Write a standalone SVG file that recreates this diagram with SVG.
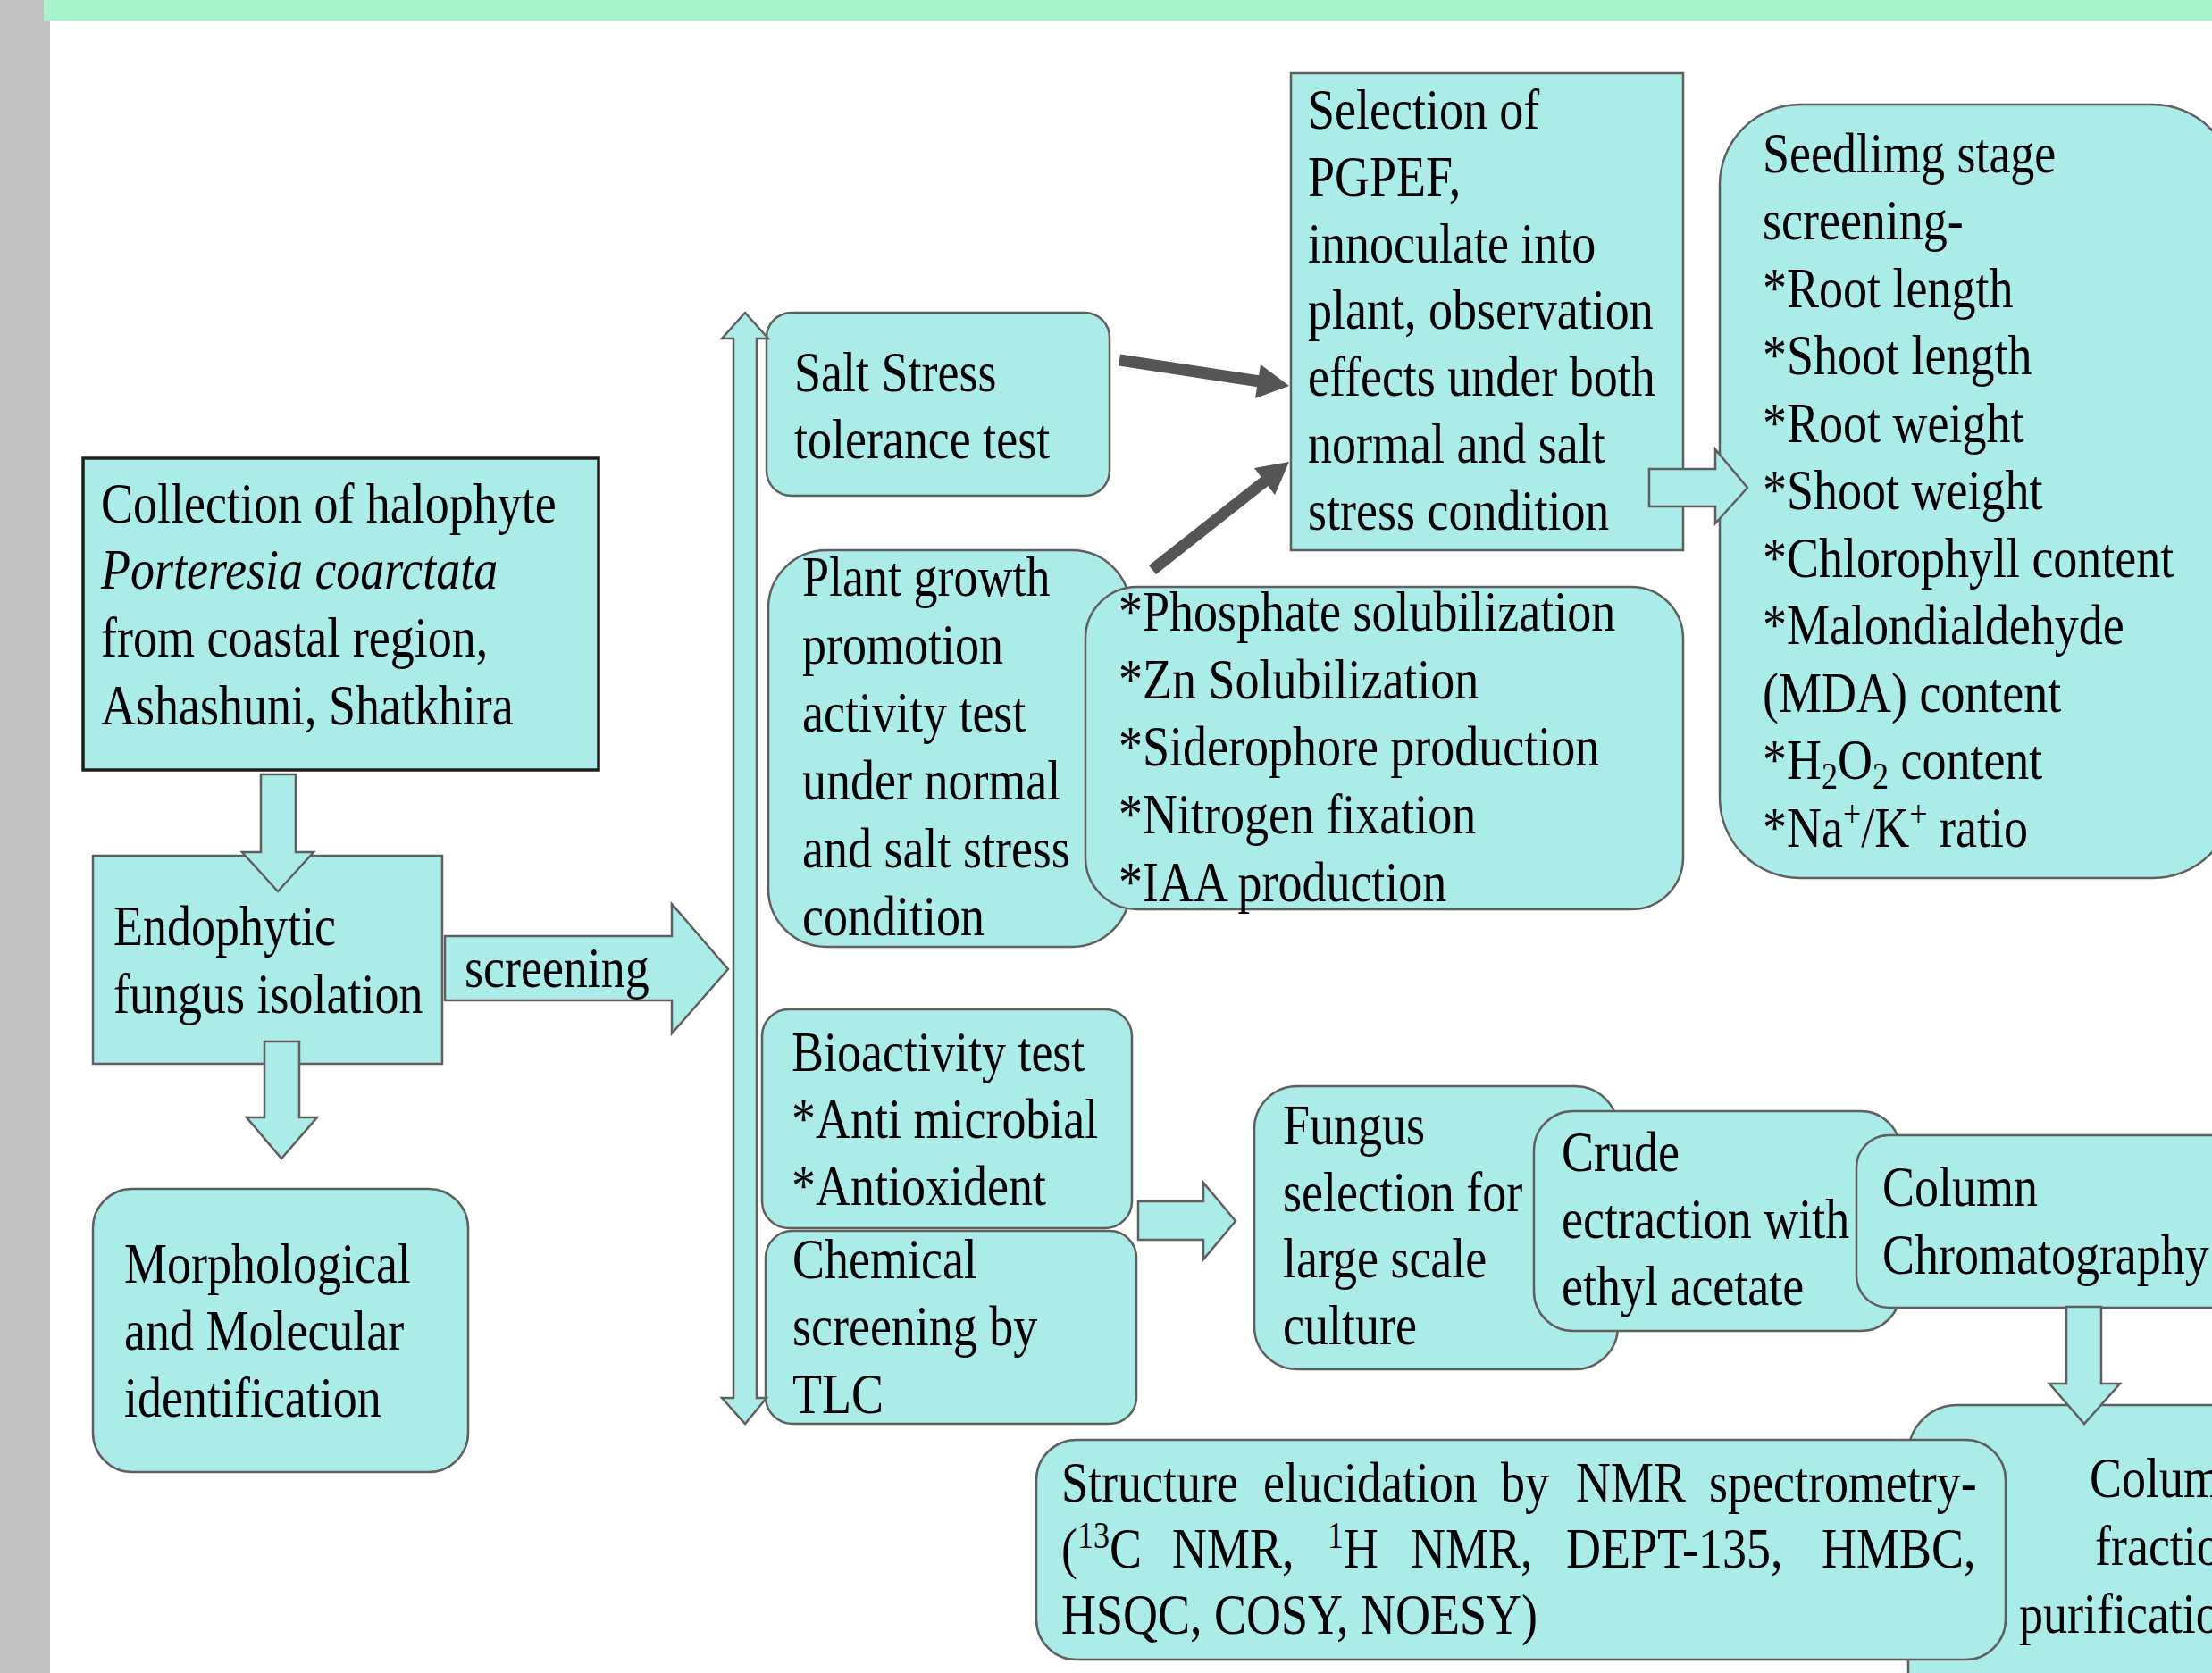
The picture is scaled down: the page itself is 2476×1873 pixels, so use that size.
<svg xmlns="http://www.w3.org/2000/svg" width="2476" height="1873" viewBox="0 0 2476 1873">
<style>
.bg{fill:#ffffff}
.box{fill:#abebe8;stroke:#5f5f5f;stroke-width:2.5}
.dark{fill:#abebe8;stroke:#1e1e1e;stroke-width:3.5}
.blk{fill:#abebe8;stroke:#5f5f5f;stroke-width:2.5;stroke-linejoin:miter}
.gl{stroke:#555555;stroke-width:13;fill:none}
.gh{fill:#555555}
.t{font-family:"Liberation Serif","Times New Roman",serif;font-size:54px;fill:#000000}
.i{font-style:italic}
.s{font-size:36px}
</style>
<rect class="bg" x="0" y="0" width="2476" height="1873"/>
<rect x="0" y="0" width="56" height="1873" fill="#c0c0c0"/>
<rect x="49" y="0" width="2427" height="23" fill="#a8f4cc"/>

<g id="collection">
<rect class="dark" x="93" y="513" width="577" height="349"/>
<text class="t" transform="matrix(1 0 0 1.17 113 585)"><tspan x="0" y="0">Collection of halophyte</tspan><tspan class="i" x="0" dy="63">Porteresia coarctata</tspan><tspan x="0" dy="65">from coastal region,</tspan><tspan x="0" dy="65">Ashashuni, Shatkhira</tspan></text>
</g>

<g id="endophytic">
<rect class="box" x="104" y="958" width="391" height="233"/>
<text class="t" transform="matrix(1 0 0 1.17 127 1058)"><tspan x="0" y="0">Endophytic</tspan><tspan x="0" dy="65">fungus isolation</tspan></text>
</g>

<g id="morphological">
<rect class="box" x="104" y="1331" width="420" height="317" rx="44"/>
<text class="t" transform="matrix(1 0 0 1.17 139 1436)"><tspan x="0" y="0">Morphological</tspan><tspan x="0" dy="64.1">and Molecular</tspan><tspan x="0" dy="64.1">identification</tspan></text>
</g>

<g id="salt">
<rect class="box" x="858" y="350" width="384" height="205" rx="28"/>
<text class="t" transform="matrix(1 0 0 1.17 889 438)"><tspan x="0" y="0">Salt Stress</tspan><tspan x="0" dy="64.1">tolerance test</tspan></text>
</g>

<g id="plantgrowth">
<rect class="box" x="860" y="616" width="405" height="444" rx="65"/>
<text class="t" transform="matrix(1 0 0 1.17 898 667)"><tspan x="0" y="0">Plant growth</tspan><tspan x="0" dy="65">promotion</tspan><tspan x="0" dy="65">activity test</tspan><tspan x="0" dy="65">under normal</tspan><tspan x="0" dy="65">and salt stress</tspan><tspan x="0" dy="65">condition</tspan></text>
</g>

<g id="phosphate">
<rect class="box" x="1215" y="657" width="669" height="361" rx="58"/>
<text class="t" transform="matrix(1 0 0 1.17 1252 706)"><tspan x="0" y="0">*Phosphate solubilization</tspan><tspan x="0" dy="64.7">*Zn Solubilization</tspan><tspan x="0" dy="64.7">*Siderophore production</tspan><tspan x="0" dy="64.7">*Nitrogen fixation</tspan><tspan x="0" dy="64.7">*IAA production</tspan></text>
</g>

<g id="selection">
<rect class="box" x="1445" y="82" width="439" height="534"/>
<text class="t" transform="matrix(1 0 0 1.17 1464 144)"><tspan x="0" y="0">Selection of</tspan><tspan x="0" dy="63.9">PGPEF,</tspan><tspan x="0" dy="63.9">innoculate into</tspan><tspan x="0" dy="63.9">plant, observation</tspan><tspan x="0" dy="63.9">effects under both</tspan><tspan x="0" dy="63.9">normal and salt</tspan><tspan x="0" dy="63.9">stress condition</tspan></text>
</g>

<g id="seedling">
<rect class="box" x="1925" y="117" width="575" height="866" rx="90"/>
<text class="t" transform="matrix(1 0 0 1.17 1973 193)"><tspan x="0" y="0">Seedlimg stage</tspan><tspan x="0" dy="64.5">screening-</tspan><tspan x="0" dy="64.5">*Root length</tspan><tspan x="0" dy="64.5">*Shoot length</tspan><tspan x="0" dy="64.5">*Root weight</tspan><tspan x="0" dy="64.5">*Shoot weight</tspan><tspan x="0" dy="64.5">*Chlorophyll content</tspan><tspan x="0" dy="64.5">*Malondialdehyde</tspan><tspan x="0" dy="64.5">(MDA) content</tspan><tspan x="0" dy="64.5">*H</tspan><tspan class="s" dy="9">2</tspan><tspan dy="-9">O</tspan><tspan class="s" dy="9">2</tspan><tspan dy="-9"> content</tspan><tspan x="0" dy="64.5">*Na</tspan><tspan class="s" dy="-19">+</tspan><tspan dy="19">/K</tspan><tspan class="s" dy="-19">+</tspan><tspan dy="19"> ratio</tspan></text>
</g>

<g id="bioactivity">
<rect class="box" x="853" y="1130" width="414" height="245" rx="30"/>
<text class="t" transform="matrix(1 0 0 1.17 886 1199)"><tspan x="0" y="0">Bioactivity test</tspan><tspan x="0" dy="64.1">*Anti microbial</tspan><tspan x="0" dy="64.1">*Antioxident</tspan></text>
</g>

<g id="chemical">
<rect class="box" x="857" y="1378" width="415" height="216" rx="30"/>
<text class="t" transform="matrix(1 0 0 1.17 887 1431)"><tspan x="0" y="0">Chemical</tspan><tspan x="0" dy="64.5">screening by</tspan><tspan x="0" dy="64.5">TLC</tspan></text>
</g>

<g id="fungus">
<rect class="box" x="1404" y="1216" width="407" height="317" rx="48"/>
<text class="t" transform="matrix(1 0 0 1.17 1436 1281)"><tspan x="0" y="0">Fungus</tspan><tspan x="0" dy="63.8">selection for</tspan><tspan x="0" dy="63.8">large scale</tspan><tspan x="0" dy="63.8">culture</tspan></text>
</g>

<g id="crude">
<rect class="box" x="1717" y="1244" width="410" height="246" rx="44"/>
<text class="t" transform="matrix(1 0 0 1.17 1748 1311)"><tspan x="0" y="0">Crude</tspan><tspan x="0" dy="64.1">ectraction with</tspan><tspan x="0" dy="64.1">ethyl acetate</tspan></text>
</g>

<g id="columnchrom">
<rect class="box" x="2078" y="1271" width="460" height="193" rx="36"/>
<text class="t" transform="matrix(1 0 0 1.17 2107 1350)"><tspan x="0" y="0">Column</tspan><tspan x="0" dy="65">Chromatography</tspan></text>
</g>

<g id="columnfrac">
<rect class="box" x="2136" y="1573" width="460" height="400" rx="55"/>
<text class="t" transform="matrix(1 0 0 1.17 0 1676)"><tspan x="2339" y="0">Colum</tspan><tspan x="2345" dy="65">fractio</tspan><tspan x="2260" dy="65">purificatio</tspan></text>
</g>

<g id="connectors">
<polygon class="blk" points="292,867 331,867 331,954 351,954 311,998 271,954 292,954"/>
<polygon class="blk" points="296,1166 335,1166 335,1251 355,1251 315,1297 276,1251 296,1251"/>
<polygon class="blk" points="498,1048 752,1048 752,1012 815,1085 752,1157 752,1120 498,1120"/>
<polygon class="blk" points="834,350 860,379 847,379 847,1565 858,1565 834,1594 808,1565 821,1565 821,379 808,379"/>
<polygon class="blk" points="1846,525 1920,525 1920,503 1956,546 1920,586 1920,567 1846,567"/>
<polygon class="blk" points="1274,1345 1347,1345 1347,1324 1383,1367 1347,1410 1347,1388 1274,1388"/>
<polygon class="blk" points="2313,1463 2352,1463 2352,1549 2373,1549 2333,1594 2294,1549 2313,1549"/>
<line class="gl" x1="1253" y1="403" x2="1410" y2="427"/>
<polygon class="gh" points="1443,432 1411,408 1405,446"/>
<line class="gl" x1="1290" y1="638" x2="1418" y2="537"/>
<polygon class="gh" points="1443,517 1427,554 1404,524"/>
<text class="t" transform="matrix(1 0 0 1.17 520 1105)">screening</text>
</g>

<g id="structure">
<rect class="box" x="1160" y="1612" width="1085" height="246" rx="45"/>
<text class="t" transform="matrix(1 0 0 1.17 0 1681)"><tspan x="1188" y="0">Structure</tspan><tspan x="1414">elucidation</tspan><tspan x="1680">by</tspan><tspan x="1764">NMR</tspan><tspan x="1913">spectrometry-</tspan><tspan x="1188" dy="63.2">(</tspan><tspan class="s" dy="-19">13</tspan><tspan dy="19">C</tspan><tspan x="1312">NMR,</tspan><tspan x="1486" class="s" dy="-19">1</tspan><tspan dy="19">H</tspan><tspan x="1579">NMR,</tspan><tspan x="1753">DEPT-135,</tspan><tspan x="2039">HMBC,</tspan><tspan x="1188" dy="63.2">HSQC, COSY, NOESY)</tspan></text>
</g>
</svg>
